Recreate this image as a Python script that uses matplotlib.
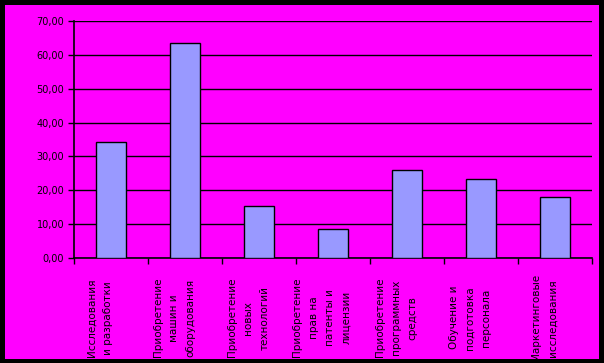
import matplotlib
matplotlib.use('Agg')
from matplotlib import pyplot as plt
from matplotlib.patches import Rectangle
from matplotlib.transforms import ScaledTranslation

categories = [
    'Исследования\nи разработки',
    'Приобретение\nмашин и\nоборудования',
    'Приобретение\nновых\nтехнологий',
    'Приобретение\nправ на\nпатенты и\nлицензии',
    'Приобретение\nпрограммных\nсредств',
    'Обучение и\nподготовка\nперсонала',
    'Маркетинговые\nисследования',
]
values = [34.2, 63.5, 15.5, 8.7, 26.1, 23.4, 18.1]
yticks = [0, 10, 20, 30, 40, 50, 60, 70]

W, H = 604, 363
fig = plt.figure(figsize=(W / 100, H / 100), dpi=100, facecolor='black')
fig.patches.append(Rectangle((5 / W, 4 / H), 594 / W, 354 / H,
                             transform=fig.transFigure, facecolor='#ff00ff',
                             edgecolor='none', zorder=-10))

ax = fig.add_axes([74 / W, 105 / H, 518 / W, 237 / H])
ax.set_facecolor('#ff00ff')

x = range(len(values))
ax.bar(x, values, width=0.41, color='#9999ff', edgecolor='black', linewidth=1, zorder=3)

ax.set_xlim(-0.5, len(values) - 0.5)
ax.set_ylim(0, 70)
ax.set_yticks(yticks)
ax.set_yticklabels([f'{v:.2f}'.replace('.', ',') for v in yticks], fontsize=7)
ax.yaxis.grid(True, color='black', linewidth=1, zorder=1)
ax.set_axisbelow(True)

# ticks at category boundaries, labels at centres
ax.set_xticks([i - 0.5 for i in range(len(values) + 1)])
ax.set_xticklabels([])
ax.tick_params(axis='x', which='major', length=4, width=1, color='black')
ax.set_xticks(list(x), minor=True)
ax.set_xticklabels(categories, minor=True, rotation=90, fontsize=7.5,
                   va='center', ha='center', multialignment='center',
                   linespacing=1.8)
ax.tick_params(axis='x', which='minor', length=0, pad=43)
ax.tick_params(axis='y', length=4, width=1, color='black', pad=3)

shift = ScaledTranslation(-11 / 100, 0, fig.dpi_scale_trans)
for lbl in ax.get_xticklabels(minor=True):
    lbl.set_transform(lbl.get_transform() + shift)

for s in ['top', 'right']:
    ax.spines[s].set_visible(False)
for s in ['left', 'bottom']:
    ax.spines[s].set_color('black')
    ax.spines[s].set_linewidth(1.2)

fig.savefig('out.png', dpi=100, facecolor='black')
